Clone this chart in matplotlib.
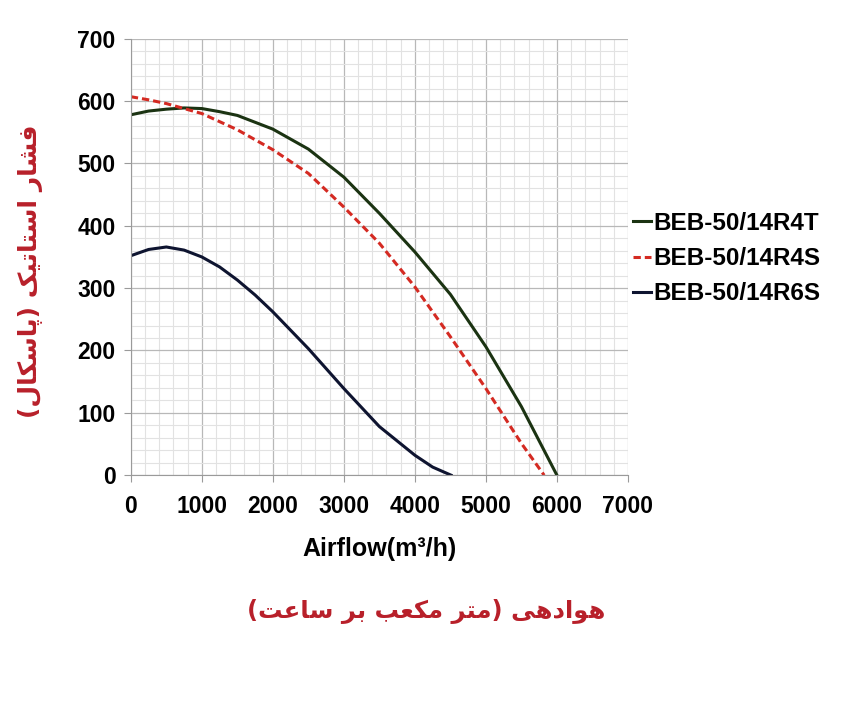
import re
import matplotlib
matplotlib.use("Agg")
import matplotlib.pyplot as plt
from matplotlib.ticker import MultipleLocator

# =========================
# DATA
# =========================
x_r4t = [0, 250, 500, 750, 1000, 1250, 1500, 2000, 2500, 3000, 3500, 4000, 4500, 5000, 5500, 6000]
p_r4t = [578, 584, 587, 589, 588, 583, 577, 555, 523, 478, 420, 358, 290, 206, 110, 0]

x_r4s = [0, 250, 500, 750, 1000, 1500, 2000, 2500, 3000, 3500, 4000, 4500, 5000, 5500, 5820]
p_r4s = [607, 602, 596, 588, 580, 554, 522, 484, 430, 372, 302, 222, 139, 51, 0]

x_r6s = [0, 250, 500, 750, 1000, 1250, 1500, 1750, 2000, 2500, 3000, 3500, 4000, 4250, 4510]
p_r6s = [352, 362, 366, 361, 350, 334, 313, 289, 262, 203, 139, 78, 32, 13, 0]

labels = ["BEB-50/14R4T", "BEB-50/14R4S", "BEB-50/14R6S"]

ylabel_fa = "فشار استاتیک (پاسکال)"
xlabel_fa = "هوادهی (متر مکعب بر ساعت)"
xlabel_en = "Airflow(m³/h)"

# =========================
# minimal Persian shaping (matplotlib has no bidi / joining)
# forms: isolated, final, initial, medial
# =========================
FORMS = {
    "ا": ("\uFE8D", "\uFE8E"), "د": ("\uFEA9", "\uFEAA"),
    "ر": ("\uFEAD", "\uFEAE"), "و": ("\uFEED", "\uFEEE"),
    "ب": ("\uFE8F", "\uFE90", "\uFE91", "\uFE92"),
    "پ": ("\uFB56", "\uFB57", "\uFB58", "\uFB59"),
    "ت": ("\uFE95", "\uFE96", "\uFE97", "\uFE98"),
    "س": ("\uFEB1", "\uFEB2", "\uFEB3", "\uFEB4"),
    "ش": ("\uFEB5", "\uFEB6", "\uFEB7", "\uFEB8"),
    "ع": ("\uFEC9", "\uFECA", "\uFECB", "\uFECC"),
    "ف": ("\uFED1", "\uFED2", "\uFED3", "\uFED4"),
    "ک": ("\uFB8E", "\uFB8F", "\uFB90", "\uFB91"),
    "ل": ("\uFEDD", "\uFEDE", "\uFEDF", "\uFEE0"),
    "م": ("\uFEE1", "\uFEE2", "\uFEE3", "\uFEE4"),
    "ه": ("\uFEE9", "\uFEEA", "\uFEEB", "\uFEEC"),
    "ی": ("\uFBFC", "\uFBFD", "\uFBFE", "\uFBFF"),
}


def shape_run(run):
    out = []
    for i, ch in enumerate(run):
        f = FORMS[ch]
        prev = i > 0 and len(FORMS[run[i - 1]]) == 4
        nxt = len(f) == 4 and i < len(run) - 1
        if prev and nxt:
            out.append(f[3])
        elif prev:
            out.append(f[1])
        elif nxt:
            out.append(f[2])
        else:
            out.append(f[0])
    return "".join(out[::-1])


letters = "".join(FORMS)


def fa_rtl(text):
    # shaped words, whole line laid out right-to-left, brackets mirrored
    tokens = re.findall("[" + letters + "]+|.", text)
    mirror = {"(": ")", ")": "("}
    out = []
    for t in tokens[::-1]:
        if t[0] in FORMS:
            out.append(shape_run(t))
        else:
            out.append(mirror.get(t, t))
    return "".join(out)


# =========================
# PLOT
# =========================
plt.rcParams["font.family"] = ["Liberation Sans", "DejaVu Sans"]

fig = plt.figure(figsize=(8.44, 7.04), dpi=100)
ax = fig.add_axes([0.155, 0.325, 0.589, 0.62])

ax.plot(x_r4t, p_r4t, color="#1b3312", lw=2.2, label=labels[0])
ax.plot(x_r4s, p_r4s, color="#d42a22", lw=2.2, ls=(0, (2.4, 1.3)), label=labels[1])
ax.plot(x_r6s, p_r6s, color="#0e1430", lw=2.2, label=labels[2])

ax.set_xlim(0, 7000)
ax.set_ylim(0, 700)
ax.xaxis.set_major_locator(MultipleLocator(1000))
ax.xaxis.set_minor_locator(MultipleLocator(200))
ax.yaxis.set_major_locator(MultipleLocator(100))
ax.yaxis.set_minor_locator(MultipleLocator(20))
ax.grid(which="major", color="#b8b8b8", lw=0.9)
ax.grid(which="minor", color="#e2e2e2", lw=0.8)
ax.set_axisbelow(True)

for s in ["top", "right"]:
    ax.spines[s].set_visible(False)
for s in ["left", "bottom"]:
    ax.spines[s].set_color("#9a9a9a")
ax.tick_params(which="major", length=5, color="#9a9a9a", labelsize=16.5)
ax.tick_params(axis="x", pad=9)
ax.tick_params(axis="y", pad=6)
ax.tick_params(which="minor", length=0)
for t in ax.get_xticklabels() + ax.get_yticklabels():
    t.set_fontweight("bold")

ax.set_xlabel(xlabel_en, fontsize=18, fontweight="bold", labelpad=14)

fig.text(0.505, 0.131, fa_rtl(xlabel_fa), fontsize=17.5, fontweight="bold",
         color="#b8202a", ha="center", va="center", family="DejaVu Sans")
fig.text(0.036, 0.615, fa_rtl(ylabel_fa), fontsize=18, fontweight="bold",
         color="#b8202a", ha="center", va="center", rotation=90, family="DejaVu Sans")

leg = ax.legend(loc="upper left", bbox_to_anchor=(0.724, 0.73), bbox_transform=fig.transFigure,
                frameon=False, handlelength=0.75, handletextpad=0.1, labelspacing=0.5,
                prop={"size": 17.5, "weight": "bold"})

fig.savefig("out.png", dpi=100)
